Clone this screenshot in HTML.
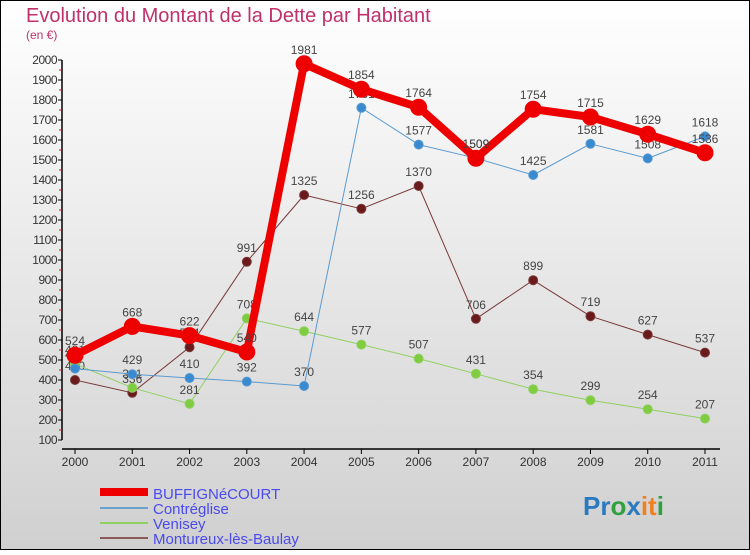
<!DOCTYPE html>
<html><head><meta charset="utf-8"><style>
html,body{margin:0;padding:0}
body{width:750px;height:550px;overflow:hidden;font-family:"Liberation Sans",sans-serif}
</style></head><body>
<svg width="750" height="550" xmlns="http://www.w3.org/2000/svg">
<defs><linearGradient id="bg" x1="0" y1="0" x2="0" y2="1"><stop offset="0" stop-color="#ffffff"/><stop offset="1" stop-color="#d0d0d0"/></linearGradient></defs>
<rect x="0.5" y="0.5" width="749" height="549" fill="url(#bg)" stroke="#000"/>
<text x="26" y="22" font-size="20" fill="#c0306a">Evolution du Montant de la Dette par Habitant</text>
<text x="26" y="39" font-size="12" fill="#c0306a">(en €)</text>
<g id="axes"></g>
<g id="series"></g>
<g>
<rect x="100" y="488" width="48" height="8" fill="#ee0000"/>
<text x="153" y="499" font-size="15" fill="#4a4aee">BUFFIGNéCOURT</text>
<rect x="100" y="507" width="48" height="2" fill="#6aa0cc"/>
<text x="153" y="514" font-size="15" fill="#4a4aee">Contréglise</text>
<rect x="100" y="522" width="48" height="2" fill="#90d060"/>
<text x="153" y="529" font-size="15" fill="#4a4aee">Venisey</text>
<rect x="100" y="537" width="48" height="2" fill="#8a5a5a"/>
<text x="153" y="544" font-size="15" fill="#4a4aee">Montureux-lès-Baulay</text>
</g>
<text x="583" y="515" font-size="26" font-weight="bold"><tspan fill="#2a7ac0">Pr</tspan><tspan fill="#30a040">o</tspan><tspan fill="#2a7ac0">x</tspan><tspan fill="#f08020">it</tspan><tspan fill="#30a040">i</tspan></text>
</svg>
<script>
const years=["2000","2001","2002","2003","2004","2005","2006","2007","2008","2009","2010","2011"];
const yTicks=[100,200,300,400,500,600,700,800,900,1000,1100,1200,1300,1400,1500,1600,1700,1800,1900,2000];
const buff=[524,668,622,540,1981,1854,1764,1509,1754,1715,1629,1536];
const contreglise=[457,429,410,392,370,1761,1577,1509,1425,1581,1508,1618];
const venisey=[481,361,281,708,644,577,507,431,354,299,254,207];
const montureux=[400,336,564,991,1325,1256,1370,706,899,719,627,537];
const NS="http://www.w3.org/2000/svg";
const X=i=>75+i*(630/11);
const Y=v=>60+(2000-v)*0.2;
function mk(tag,attrs,parent){const e=document.createElementNS(NS,tag);for(const k in attrs)e.setAttribute(k,attrs[k]);parent.appendChild(e);return e;}
const ax=document.getElementById('axes');
let l=mk('line',{x1:62,y1:Y(2000),x2:62,y2:Y(100),stroke:'#000','stroke-width':1.5},ax);


l=mk('line',{x1:62,y1:449,x2:720,y2:449,stroke:'#000','stroke-width':1.5},ax);


yTicks.forEach(v=>{
 const t=mk('line',{x1:58,y1:Y(v),x2:62,y2:Y(v),stroke:'#000'},ax);
 
 
 if(v<2000){const r=mk('line',{x1:59,y1:Y(v+50),x2:62,y2:Y(v+50),stroke:'#e00'},ax);
 
 }
 const tx=mk('text',{x:57,y:Y(v)+4,'font-size':12,fill:'#333','text-anchor':'end','letter-spacing':'-0.5'},ax);
 tx.textContent=v;
 
 
});
years.forEach((yr,i)=>{
 const t=mk('line',{x1:X(i),y1:449,x2:X(i),y2:454,stroke:'#000'},ax);
 
 
 const tx=mk('text',{x:X(i),y:466,'font-size':12,fill:'#333','text-anchor':'middle'},ax);
 tx.textContent=yr;
 
 
});
const sg=document.getElementById('series');
function series(vals,color,w,r,dot,name){
 const g=mk('g',{},sg);
 
 
 const p=mk('polyline',{points:vals.map((v,i)=>X(i)+','+Y(v)).join(' '),fill:'none',stroke:color,'stroke-width':w,'stroke-linejoin':'round'},g);
 
 
 vals.forEach((v,i)=>{
  const c=mk('circle',{cx:X(i),cy:Y(v),r:r,fill:dot,stroke:color,'stroke-width':1},g);
  
  
  const t=mk('text',{x:X(i),y:Y(v)-10,'font-size':12,fill:'#444','text-anchor':'middle'},g);
  t.textContent=v;
  
  
 });
}
series(montureux,'#7a3a3a',1,4.5,'#6a1a1a','montureux');
series(venisey,'#90d060',1,4.5,'#80cc40','venisey');
series(contreglise,'#5a9ad0',1,4.5,'#3a8ad0','contreglise');
series(buff,'#ee0000',8,8,'#ee0000','buffignecourt');
</script>
</body></html>
